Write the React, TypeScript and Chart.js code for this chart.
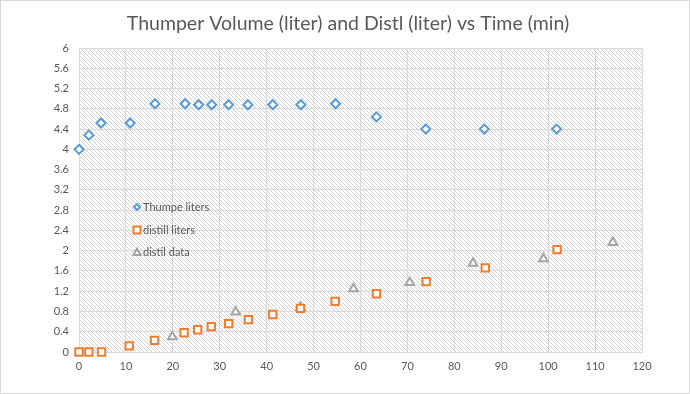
import React, { useEffect, useRef } from "react";
import { Chart, registerables } from "chart.js";

Chart.register(...registerables);

const titleText = "Thumper Volume (liter) and Distl (liter) vs Time (min)";

const thumperTime = [0, 2.1, 4.7, 10.9, 16.2, 22.6, 25.5, 28.3, 31.9, 36, 41.3, 47.3, 54.7, 63.4, 73.9, 86.4, 101.8];
const thumperLiters = [4, 4.28, 4.52, 4.52, 4.9, 4.9, 4.88, 4.88, 4.88, 4.88, 4.88, 4.88, 4.9, 4.64, 4.4, 4.4, 4.4];

const distillTime = [0, 2.1, 4.8, 10.7, 16.1, 22.4, 25.3, 28.2, 31.9, 36.1, 41.3, 47.2, 54.6, 63.4, 74, 86.6, 101.9];
const distillLiters = [0, 0, 0, 0.12, 0.23, 0.38, 0.44, 0.5, 0.56, 0.64, 0.74, 0.86, 1.0, 1.15, 1.39, 1.66, 2.02];

const distilDataTime = [19.9, 33.4, 47.2, 58.5, 70.5, 84, 99, 113.8];
const distilDataLiters = [0.3, 0.79, 0.88, 1.25, 1.37, 1.75, 1.84, 2.16];

const seriesNames = ["Thumpe liters", "distill liters", "distil data"];
const seriesColors = ["#5b9bd5", "#ed7d31", "#a5a5a5"];

const FONT = "Lato, 'Open Sans', sans-serif";
const TEXT = "#595959";

function toPoints(xs: number[], ys: number[]) {
  return xs.map((x, i) => ({ x, y: ys[i] }));
}

export default function App() {
  const ref = useRef<HTMLCanvasElement | null>(null);
  useEffect(() => {
    document.body.style.margin = "0";
    const canvas = ref.current!;
    const pc = document.createElement("canvas");
    pc.width = 4;
    pc.height = 4;
    const pctx = pc.getContext("2d")!;
    pctx.fillStyle = "#ffffff";
    pctx.fillRect(0, 0, 4, 4);
    pctx.fillStyle = "#d2d2d2";
    for (let i = 0; i < 4; i++) pctx.fillRect(i, i, 1, 1);
    const ctx0 = canvas.getContext("2d")!;
    const pattern = ctx0.createPattern(pc, "repeat")!;

    const bgPlugin = {
      id: "bgHatch",
      beforeDraw(chart: any) {
        const { ctx, chartArea: a, width, height } = chart;
        ctx.save();
        ctx.fillStyle = "#ffffff";
        ctx.fillRect(0, 0, width, height);
        ctx.fillStyle = pattern;
        ctx.fillRect(a.left, a.top, a.right - a.left, a.bottom - a.top);
        ctx.strokeStyle = "#d9d9d9";
        ctx.lineWidth = 1;
        ctx.strokeRect(0.5, 0.5, width - 1, height - 1);
        ctx.fillStyle = TEXT;
        ctx.font = `19.5px ${FONT}`;
        ctx.textAlign = "center";
        ctx.textBaseline = "middle";
        ctx.fillText(titleText, 348, 24);
        ctx.restore();
      },
    };

    const legendPlugin = {
      id: "innerLegend",
      afterDatasetsDraw(chart: any) {
        const { ctx, chartArea: a } = chart;
        const x0 = a.left + 58;
        const ys = [a.top + 159, a.top + 182, a.top + 204];
        ctx.save();
        ctx.font = `11px ${FONT}`;
        ctx.textBaseline = "middle";
        ctx.textAlign = "left";
        ys.forEach((y, i) => {
          ctx.strokeStyle = seriesColors[i];
          ctx.fillStyle = "#ffffff";
          ctx.lineWidth = 2;
          ctx.beginPath();
          if (i === 0) {
            const r = 3;
            ctx.moveTo(x0, y - r);
            ctx.lineTo(x0 + r, y);
            ctx.lineTo(x0, y + r);
            ctx.lineTo(x0 - r, y);
            ctx.closePath();
          } else if (i === 1) {
            ctx.rect(x0 - 3.5, y - 3.5, 7, 7);
          } else {
            ctx.moveTo(x0, y - 3.5);
            ctx.lineTo(x0 + 3.5, y + 3);
            ctx.lineTo(x0 - 3.5, y + 3);
            ctx.closePath();
          }
          ctx.fill();
          ctx.stroke();
          ctx.fillStyle = TEXT;
          ctx.fillText(seriesNames[i], x0 + 6, y);
        });
        ctx.restore();
      },
    };

    const chart = new Chart(canvas, {
      type: "scatter",
      data: {
        datasets: [
          {
            label: seriesNames[0],
            data: toPoints(thumperTime, thumperLiters),
            pointStyle: "rectRot",
            pointRadius: 4.5,
            borderWidth: 2,
            borderColor: seriesColors[0],
            backgroundColor: "#ffffff",
            clip: false,
          },
          {
            label: seriesNames[1],
            data: toPoints(distillTime, distillLiters),
            pointStyle: "rect",
            pointRadius: 5.2,
            borderWidth: 2,
            borderColor: seriesColors[1],
            backgroundColor: "#ffffff",
            clip: false,
          },
          {
            label: seriesNames[2],
            data: toPoints(distilDataTime, distilDataLiters),
            pointStyle: "triangle",
            pointRadius: 5,
            borderWidth: 2,
            borderColor: seriesColors[2],
            backgroundColor: "#ffffff",
            clip: false,
          },
        ],
      },
      options: {
        animation: false,
        responsive: false,
        maintainAspectRatio: false,
        layout: { padding: { left: 0, right: 48, top: 48, bottom: 0 } },
        plugins: {
          legend: { display: false },
          tooltip: { enabled: false },
          title: { display: false },
        },
        scales: {
          x: {
            type: "linear",
            min: 0,
            max: 120,
            ticks: {
              stepSize: 10,
              color: TEXT,
              font: { family: FONT, size: 11 },
              padding: 8,
              maxRotation: 0,
            },
            grid: { color: "#d9d9d9", drawTicks: false },
            border: { color: "#d9d9d9" },
            afterFit(scale: any) {
              scale.height = 42;
            },
          },
          y: {
            type: "linear",
            min: 0,
            max: 6,
            ticks: {
              stepSize: 0.4,
              color: TEXT,
              font: { family: FONT, size: 11 },
              padding: 10,
              callback: (v: any) => String(Number(Number(v).toFixed(1))),
            },
            grid: { color: "#d9d9d9", drawTicks: false },
            border: { color: "#d9d9d9" },
            afterFit(scale: any) {
              scale.width = 79;
            },
          },
        },
      },
      plugins: [bgPlugin, legendPlugin],
    });
    return () => chart.destroy();
  }, []);
  return (
    <div style={{ width: 690, height: 394 }}>
      <canvas ref={ref} width={690} height={394} style={{ display: "block" }} />
    </div>
  );
}
